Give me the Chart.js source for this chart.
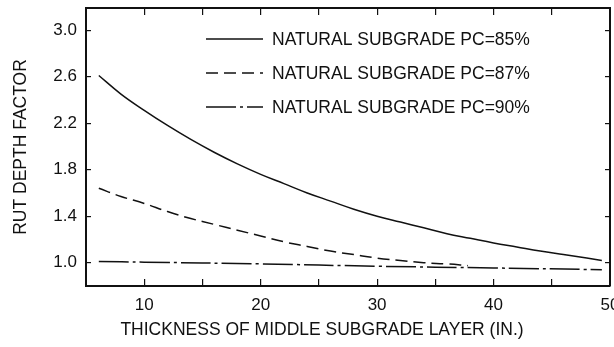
<!DOCTYPE html>
<html>
<head>
<meta charset="utf-8">
<script src="https://cdn.jsdelivr.net/npm/chart.js@4/dist/chart.umd.min.js"></script>
<style>
  html, body { margin: 0; padding: 0; background: #fff; }
  #wrap { width: 614px; height: 347px; }
</style>
</head>
<body>
<div id="wrap"><canvas id="myChart" width="614" height="347"></canvas></div>
<script>
// thickness of middle subgrade layer (in.) and rut depth factor per curve
var pc85X = [6.1, 8, 10, 12, 14, 16, 18, 20, 22, 24, 26, 28, 30, 32, 34, 36, 38, 40, 42, 44, 46, 48, 49.3];
var pc85Y = [2.61, 2.45, 2.31, 2.18, 2.06, 1.95, 1.85, 1.76, 1.68, 1.60, 1.53, 1.46, 1.40, 1.35, 1.30, 1.25, 1.21, 1.17, 1.135, 1.10, 1.07, 1.04, 1.02];

var pc87X = [6.1, 8, 10, 12, 14, 16, 18, 20, 22, 24, 26, 28, 30, 32, 34, 36, 37.8];
var pc87Y = [1.64, 1.57, 1.51, 1.44, 1.38, 1.33, 1.28, 1.23, 1.18, 1.14, 1.10, 1.07, 1.04, 1.02, 1.00, 0.99, 0.975];

var pc90X = [6.1, 10, 20, 30, 40, 49.3];
var pc90Y = [1.01, 1.005, 0.99, 0.97, 0.955, 0.94];

var seriesLabels = ['NATURAL SUBGRADE PC=85%', 'NATURAL SUBGRADE PC=87%', 'NATURAL SUBGRADE PC=90%'];
var yTickValues = [1.0, 1.4, 1.8, 2.2, 2.6, 3.0];
var xTickLabels = [10, 20, 30, 40, 50];
var xTitle = 'THICKNESS OF MIDDLE SUBGRADE LAYER (IN.)';
var yTitle = 'RUT DEPTH FACTOR';

function pts(xs, ys) {
  return xs.map(function (x, i) { return {x: x, y: ys[i]}; });
}

var ink = '#111';
var family = 'Arial, "Liberation Sans", Helvetica, sans-serif';
var tickFont = {family: family, size: 17};
var textFont = {family: family, size: 17.5};

// legend inside the plot (upper right) and the x axis caption
var annotations = {
  id: 'annotations',
  afterDatasetsDraw: function (chart) {
    var ctx = chart.ctx;
    var rows = [39, 73, 107];
    ctx.save();
    ctx.fillStyle = ink;
    ctx.strokeStyle = ink;
    ctx.font = textFont.size + 'px ' + family;
    ctx.textBaseline = 'middle';
    chart.data.datasets.forEach(function (ds, i) {
      var y = rows[i];
      ctx.beginPath();
      ctx.setLineDash(ds.borderDash || []);
      ctx.lineWidth = 1.5;
      ctx.moveTo(206, y);
      ctx.lineTo(263, y);
      ctx.stroke();
      ctx.setLineDash([]);
      ctx.textAlign = 'left';
      ctx.fillText(ds.label, 272, y + 1);
    });
    ctx.textAlign = 'center';
    ctx.fillText(xTitle, 322, 330);
    ctx.restore();
  }
};

function fixWidth(w) {
  return function (scale) { scale.width = w; scale.paddingTop = 0; scale.paddingBottom = 0; };
}
function fixHeight(h) {
  return function (scale) { scale.height = h; scale.paddingLeft = 0; scale.paddingRight = 0; };
}
function setYTicks(scale) {
  scale.ticks = yTickValues.map(function (v) { return {value: v}; });
}

var ctx = document.getElementById('myChart').getContext('2d');
var myChart = new Chart(ctx, {
  type: 'scatter',
  data: {
    datasets: [{
      data: pts(pc85X, pc85Y),
      label: seriesLabels[0],
      borderColor: ink,
      borderWidth: 1.5,
      borderDash: [],
      showLine: true,
      pointRadius: 0,
      tension: 0.4
    }, {
      data: pts(pc87X, pc87Y),
      label: seriesLabels[1],
      borderColor: ink,
      borderWidth: 1.5,
      borderDash: [12, 6],
      showLine: true,
      pointRadius: 0,
      tension: 0.4
    }, {
      data: pts(pc90X, pc90Y),
      label: seriesLabels[2],
      borderColor: ink,
      borderWidth: 1.5,
      borderDash: [30, 4, 3, 4],
      showLine: true,
      pointRadius: 0,
      tension: 0.4
    }]
  },
  options: {
    responsive: false,
    animation: false,
    layout: { padding: {top: 8, right: 4, left: 0, bottom: 0} },
    plugins: { legend: {display: false}, tooltip: {enabled: false} },
    scales: {
      x: {
        type: 'linear',
        position: 'bottom',
        min: 5, max: 50,
        afterFit: fixHeight(61),
        border: {display: true, color: ink, width: 2},
        grid: {drawOnChartArea: false, drawTicks: true, tickLength: -7, color: ink, lineWidth: 1.2},
        ticks: {
          stepSize: 5,
          padding: 16,
          maxRotation: 0,
          autoSkip: false,
          color: ink,
          font: tickFont,
          callback: function (v) { return xTickLabels.indexOf(v) >= 0 ? String(v) : ''; }
        }
      },
      xTop: {
        type: 'linear',
        position: 'top',
        min: 5, max: 50,
        afterFit: fixHeight(0),
        border: {display: true, color: ink, width: 2},
        grid: {drawOnChartArea: false, drawTicks: true, tickLength: -7, color: ink, lineWidth: 1.2},
        ticks: {stepSize: 5, display: false}
      },
      y: {
        type: 'linear',
        position: 'left',
        min: 0.8, max: 3.19,
        afterBuildTicks: setYTicks,
        afterFit: fixWidth(86),
        border: {display: true, color: ink, width: 2},
        grid: {drawOnChartArea: false, drawTicks: true, tickLength: -5, color: ink, lineWidth: 1.2},
        ticks: {
          padding: 14,
          color: ink,
          font: tickFont,
          callback: function (v) { return v.toFixed(1); }
        },
        title: {
          display: true,
          text: yTitle,
          color: ink,
          font: textFont,
          padding: {top: 11, bottom: 0}
        }
      },
      yRight: {
        type: 'linear',
        position: 'right',
        min: 0.8, max: 3.19,
        afterBuildTicks: setYTicks,
        afterFit: fixWidth(0),
        border: {display: true, color: ink, width: 2},
        grid: {drawOnChartArea: false, drawTicks: true, tickLength: -5, color: ink, lineWidth: 1.2},
        ticks: {display: false}
      }
    }
  },
  plugins: [annotations]
});
</script>
</body>
</html>
